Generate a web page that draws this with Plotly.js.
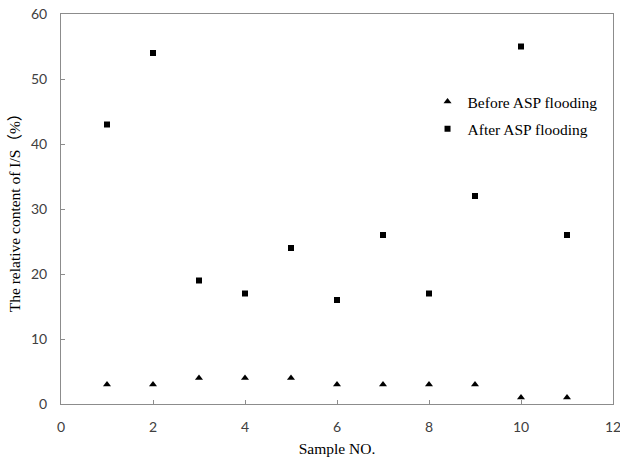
<!DOCTYPE html>
<html>
<head>
<meta charset="utf-8">
<script src="https://cdn.plot.ly/plotly-3.0.1.min.js"></script>
<style>html,body{margin:0;padding:0;background:#fff;}#chart{width:620px;height:458px;}</style>
</head>
<body>
<div id="chart"></div>
<script>
const samples = [1, 2, 3, 4, 5, 6, 7, 8, 9, 10, 11];
const beforeASP = [3, 3, 4, 4, 4, 3, 3, 3, 3, 1, 1];
const afterASP = [43, 54, 19, 17, 24, 16, 26, 17, 32, 55, 26];
const seriesNames = ["Before ASP flooding", "After ASP flooding"];
const xTicks = [0, 2, 4, 6, 8, 10, 12];
const yTicks = [0, 10, 20, 30, 40, 50, 60];
const xTitle = "Sample NO.";
const yTitle = "The relative content of I/S（%）";

const serif = "'Liberation Serif', 'Times New Roman', 'Noto Sans CJK SC', serif";
const sans = "Lato, 'Open Sans', sans-serif";

const traces = [
  {x: samples, y: beforeASP, name: seriesNames[0], legendgroup: "a", type: "scatter", mode: "markers",
   marker: {symbol: "triangle-up", size: 7, color: "#000"}},
  {x: samples, y: afterASP, name: seriesNames[1], legendgroup: "b", type: "scatter", mode: "markers",
   marker: {symbol: "square", size: 6, color: "#000"}}
];

const axisCommon = {
  showgrid: false, zeroline: false, showline: true, mirror: true,
  linecolor: "#8c8c8c", linewidth: 1, ticks: "inside", ticklen: 4,
  tickcolor: "#8c8c8c", tickfont: {family: sans, size: 14, color: "#404040"},
  tickmode: "array", ticklabeloverflow: "allow"
};

const layout = {
  width: 620, height: 458,
  margin: {l: 61, r: 7, t: 14, b: 54},
  paper_bgcolor: "#fff", plot_bgcolor: "#fff",
  showlegend: true,
  legend: {x: 0.664, y: 0.818, xanchor: "left", yanchor: "top",
           font: {family: serif, size: 15.5, color: "#000"},
           bgcolor: "rgba(0,0,0,0)", traceorder: "grouped", tracegroupgap: 4, itemwidth: 30},
  xaxis: Object.assign({}, axisCommon, {
    range: [0, 12], tickvals: xTicks, ticktext: xTicks.map(String), ticklabelstandoff: 10,
    title: {text: xTitle, font: {family: serif, size: 15.5, color: "#000"}, standoff: 9}
  }),
  yaxis: Object.assign({}, axisCommon, {
    range: [0, 60], tickvals: yTicks, ticktext: yTicks.map(String), ticklabelstandoff: 10,
    title: {text: yTitle, font: {family: serif, size: 15.5, color: "#000"}, standoff: 6}
  })
};

Plotly.newPlot("chart", traces, layout, {displayModeBar: false, staticPlot: true});
</script>
</body>
</html>
